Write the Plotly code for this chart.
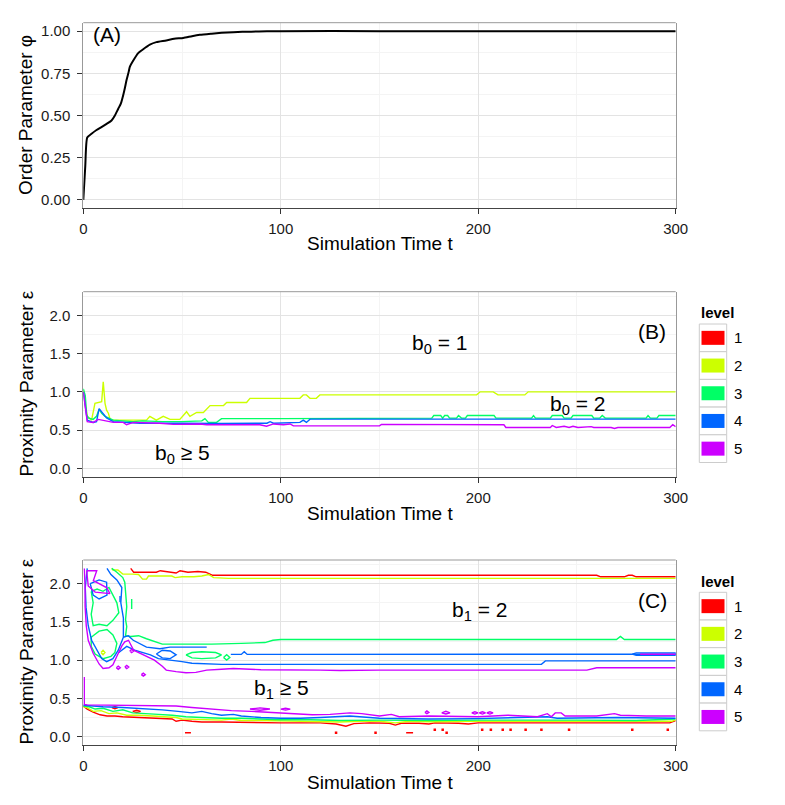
import plotly.graph_objects as go

W, H = 777, 797          # figure size; the page adds an 8px body margin
OFF = 8
FONT = "Liberation Sans, Arial, Helvetica, sans-serif"

LEVELS = ["1", "2", "3", "4", "5"]
LEVEL_COLORS = ["#FF0000", "#CCFF00", "#00FF66", "#0066FF", "#CC00FF"]
X_TICKS = [0, 100, 200, 300]
A_Y_TICKS = [0.0, 0.25, 0.5, 0.75, 1.0]
BC_Y_TICKS = [0.0, 0.5, 1.0, 1.5, 2.0]

# ---------------- Panel A: order parameter ----------------
a_t = [0, 1, 2, 4, 6.7, 9, 11.8, 14.3, 16, 17.7, 19, 20.2, 21, 21.9, 23, 23.6, 25, 27.8, 30,
       33.7, 37, 42, 46, 50.6, 55, 59, 65, 70, 76, 85, 93, 100, 150, 200, 250, 300]
a_phi = [0.0, 0.2, 0.37, 0.39, 0.414, 0.43, 0.45, 0.47, 0.50, 0.54, 0.57, 0.62, 0.66, 0.71, 0.76,
         0.79, 0.82, 0.87, 0.89, 0.92, 0.935, 0.945, 0.955, 0.96, 0.97, 0.978, 0.985, 0.99, 0.994,
         0.997, 0.999, 1.0, 1.0, 1.0, 1.0, 1.0]

# ---------------- Panel B: b0 contour lines (t, eps) ----------------
b2_pts = [(0, 1.02), (2, 0.68), (4.2, 0.63), (5.9, 0.85), (9.3, 0.87), (10.1, 1.13), (11, 0.85),
          (11.8, 0.76), (12.7, 0.72), (13.5, 0.65), (14.3, 0.63), (32, 0.63), (33.7, 0.68),
          (37, 0.63), (40.5, 0.68), (43.9, 0.64), (48.9, 0.64), (52.3, 0.74), (54, 0.68),
          (57.4, 0.73), (60.8, 0.73), (64.2, 0.82), (71, 0.82), (72.6, 0.86), (82.7, 0.86),
          (84.4, 0.915), (109.7, 0.915), (111.4, 0.96), (113, 0.96), (114.8, 0.915), (118, 0.915),
          (119.8, 0.96), (199.2, 0.96), (201, 1.0), (207.6, 1.0), (210, 0.96), (223.6, 0.96),
          (225.3, 1.0), (300, 1.0)]
b3_pts = [(0, 1.04), (1, 0.95), (1.7, 0.70), (2.5, 0.66), (5, 0.64), (6.7, 0.68), (8, 0.77),
          (9.3, 0.72), (11, 0.68), (13.5, 0.65), (15.2, 0.63), (20, 0.62), (25.3, 0.61), (30, 0.62),
          (40, 0.61), (50, 0.61), (60, 0.62), (61.6, 0.65), (63.3, 0.60), (67.5, 0.60), (70, 0.65),
          (100, 0.65), (150, 0.656), (176.5, 0.656), (177.5, 0.69), (181, 0.69), (182, 0.656),
          (183, 0.69), (184.5, 0.69), (185.5, 0.656), (189, 0.656), (190, 0.69), (191.5, 0.656),
          (193.5, 0.656), (194.5, 0.69), (208, 0.69), (209, 0.656), (227, 0.656), (228, 0.69),
          (229, 0.656), (236.5, 0.656), (237.5, 0.69), (242.5, 0.69), (243.5, 0.656), (247, 0.656),
          (248, 0.69), (257.5, 0.69), (258.5, 0.656), (261.5, 0.656), (262.8, 0.69), (264.3, 0.656),
          (285, 0.656), (286, 0.69), (287.2, 0.656), (290.5, 0.656), (291.5, 0.69), (300, 0.69)]
b4_pts = [(0, 1.0), (2, 0.63), (5, 0.60), (6.7, 0.61), (8, 0.78), (10.1, 0.72), (11.8, 0.66),
          (15.2, 0.61), (21.9, 0.60), (28.7, 0.59), (50, 0.59), (70, 0.585), (93, 0.59),
          (94.6, 0.61), (96.3, 0.59), (109.7, 0.60), (111.4, 0.63), (113, 0.60), (114.8, 0.643),
          (200, 0.643), (300, 0.643)]
b5_pts = [(0, 1.0), (2, 0.61), (5, 0.60), (7.6, 0.64), (15.2, 0.60), (20.2, 0.60), (21.9, 0.57),
          (25.3, 0.60), (38.8, 0.59), (45.6, 0.575), (59, 0.58), (62.5, 0.57), (75.9, 0.57),
          (89.4, 0.57), (92.8, 0.55), (96.3, 0.58), (101.3, 0.57), (104.7, 0.58), (106.4, 0.555),
          (150, 0.555), (151, 0.575), (170, 0.575), (171, 0.569), (213, 0.569), (214, 0.534),
          (236.5, 0.534), (237.5, 0.56), (239.5, 0.534), (243.5, 0.55), (246, 0.534), (248, 0.55),
          (250.5, 0.534), (257.2, 0.545), (258.5, 0.534), (267.3, 0.534), (269, 0.52),
          (270.7, 0.534), (297, 0.534), (298.5, 0.57), (300, 0.545)]

# ---------------- Panel C: b1 contour lines (t, eps) ----------------
# level 1 (red)
c1_top = [(24, 2.2), (24.5, 2.18), (25.5, 2.15), (30, 2.15), (37, 2.15), (39, 2.17), (44, 2.15),
          (47, 2.14), (49, 2.17), (53, 2.15), (58, 2.16), (62, 2.15), (65.5, 2.11), (70, 2.11),
          (100, 2.11), (150, 2.11), (200, 2.11), (260, 2.11), (262, 2.09), (274, 2.09), (276, 2.11),
          (278, 2.11), (280, 2.09), (300, 2.09)]
c1_bot = [(0, 0.40), (2, 0.36), (5, 0.32), (8.5, 0.285), (12, 0.27), (16, 0.27), (20, 0.26),
          (24, 0.255), (30, 0.25), (36, 0.24), (40, 0.235), (45, 0.23), (47, 0.20), (50, 0.215),
          (55, 0.20), (60, 0.19), (70, 0.19), (80, 0.185), (90, 0.185), (100, 0.18), (110, 0.18),
          (120, 0.18), (128, 0.165), (133, 0.135), (137, 0.17), (145, 0.18), (155, 0.175),
          (158, 0.15), (161, 0.175), (170, 0.175), (175, 0.165), (178, 0.18), (190, 0.175),
          (195, 0.165), (200, 0.18), (230, 0.18), (260, 0.18), (280, 0.18), (297, 0.18), (300, 0.21)]
c1_loop_a = [(14.5, 0.38), (16, 0.395), (17.5, 0.38), (16, 0.365), (14.5, 0.38)]
c1_loop_b = [(25, 0.33), (27, 0.345), (29, 0.33), (27, 0.315), (25, 0.33)]
c1_dash_a = [(51.5, 0.05), (54.5, 0.05)]
c1_dash_b = [(163.5, 0.05), (167, 0.05)]
c1_dot_t = [128, 148, 178, 182, 184, 202, 206.4, 212.4, 216.4, 224, 232, 246, 278, 296]
c1_dot_e = [0.05, 0.05, 0.09, 0.09, 0.05, 0.09, 0.09, 0.09, 0.09, 0.09, 0.09, 0.09, 0.09, 0.09]

# level 2 (yellow-green)
c2_top = [(14.4, 2.2), (15, 2.18), (17.5, 2.18), (19, 2.15), (20, 2.125), (25, 2.125), (28, 2.12),
          (30, 2.06), (32, 2.06), (33, 2.1), (40, 2.1), (44.8, 2.1), (46.5, 2.08), (50, 2.09),
          (56, 2.09), (60, 2.1), (63.4, 2.12), (66, 2.08), (73.5, 2.07), (100, 2.07), (200, 2.07),
          (300, 2.07)]
c2_bot = [(0, 0.39), (2, 0.38), (5, 0.33), (9, 0.34), (13, 0.30), (17, 0.31), (22, 0.28), (28, 0.28),
          (35, 0.27), (40, 0.26), (47, 0.25), (50, 0.23), (60, 0.22), (70, 0.215), (75, 0.23),
          (80, 0.21), (90, 0.21), (100, 0.205), (115, 0.20), (130, 0.19), (140, 0.20), (150, 0.20),
          (158, 0.18), (165, 0.20), (175, 0.195), (185, 0.20), (200, 0.20), (230, 0.20), (260, 0.20),
          (280, 0.195), (298, 0.2), (300, 0.22)]
c2_loop = [(9, 1.1), (10, 1.13), (11, 1.1), (10, 1.07), (9, 1.1)]

# level 3 (green)
c3_main = [(14.4, 2.2), (17, 2.15), (20, 2.08), (21, 2.02), (22, 1.7), (21.4, 1.53), (22, 1.44),
           (21.4, 1.32), (24, 1.31), (28, 1.32), (32, 1.28), (36, 1.24), (40, 1.21), (50, 1.21),
           (65, 1.21), (80, 1.22), (92, 1.23), (96, 1.26), (100, 1.27), (150, 1.27), (200, 1.27),
           (250, 1.27), (270, 1.27), (272, 1.31), (274, 1.27), (300, 1.27)]
c3_dash = [(24.5, 1.67), (24.5, 1.80)]
c3_loop_a = [(4, 1.9), (7, 1.93), (10, 1.90), (13, 1.95), (15, 1.85), (17, 1.75), (18, 1.62),
             (15, 1.52), (12, 1.45), (8, 1.47), (5, 1.45), (4, 1.6), (5, 1.75), (4, 1.9)]
c3_loop_b = [(4, 1.3), (8, 1.38), (12, 1.40), (15, 1.33), (17, 1.22), (16, 1.10), (14, 1.05),
             (10, 1.02), (6, 1.08), (4, 1.18), (4, 1.3)]
c3_loop_c = [(52, 1.07), (55, 1.10), (60, 1.11), (67, 1.10), (70, 1.07), (67, 1.03), (60, 1.02),
             (55, 1.03), (52, 1.07)]
c3_loop_d = [(71, 1.035), (72.6, 1.07), (74.2, 1.035), (72.6, 1.0), (71, 1.035)]
c3_bot = [(0, 0.40), (3, 0.39), (6, 0.36), (10, 0.37), (15, 0.33), (20, 0.35), (25, 0.31), (30, 0.30),
          (38, 0.29), (45, 0.28), (52, 0.26), (60, 0.25), (70, 0.24), (80, 0.24), (90, 0.23),
          (100, 0.22), (115, 0.22), (130, 0.21), (150, 0.215), (175, 0.21), (200, 0.215),
          (230, 0.22), (250, 0.215), (280, 0.21), (300, 0.23)]

# level 4 (blue)
c4_outer = [(2, 2.2), (1, 1.95), (1.4, 1.69), (2.5, 1.45), (4.2, 1.26), (6.8, 1.13), (9.3, 1.02),
            (11.8, 0.98), (15, 1.02), (17.7, 1.13), (20.3, 1.30), (20.3, 1.55), (19, 1.75),
            (19.5, 1.95), (17, 2.05), (14, 2.12), (12, 2.2)]
c4_tail = [(20.3, 1.30), (22.8, 1.32), (25.3, 1.26), (28, 1.22), (32, 1.17), (38.8, 1.15),
           (43.9, 1.17), (50, 1.17), (62.5, 1.17)]
c4_lower = [(18, 1.10), (22, 1.18), (26, 1.13), (30, 1.10), (34, 1.07), (38, 1.02), (45, 1.0),
            (50, 0.98), (55, 0.96), (62, 0.95), (70, 0.945), (100, 0.945), (150, 0.945),
            (200, 0.945), (232, 0.945), (234, 0.99), (300, 0.99)]
c4_loop_a = [(37, 1.08), (40, 1.13), (44, 1.12), (47, 1.07), (44, 1.02), (40, 1.03), (37, 1.08)]
c4_right = [(74.7, 1.075), (80, 1.075), (81.5, 1.11), (83, 1.075), (100, 1.075), (200, 1.078),
            (300, 1.078)]
c4_loop_b = [(278, 1.078), (280, 1.095), (290, 1.095), (300, 1.095), (300, 1.062), (290, 1.062),
             (280, 1.062), (278, 1.078)]
c4_inner = [(3.5, 2.0), (8, 2.05), (11.8, 2.02), (12, 1.85), (8, 1.8), (5, 1.85), (3.5, 2.0)]
c4_dash = [(18.6, 1.76), (18.6, 1.84)]
c4_bot = [(0, 0.41), (5, 0.40), (10, 0.39), (20, 0.38), (30, 0.37), (40, 0.35), (48, 0.33),
          (55, 0.31), (60, 0.33), (65, 0.30), (70, 0.28), (76, 0.29), (80, 0.27), (90, 0.25),
          (100, 0.24), (110, 0.24), (120, 0.25), (135, 0.27), (150, 0.24), (175, 0.23),
          (200, 0.235), (235, 0.26), (240, 0.24), (270, 0.25), (300, 0.24)]

# level 5 (purple)
c5_outer = [(0.5, 2.2), (0.9, 1.95), (0.9, 1.71), (1.5, 1.45), (2.5, 1.26), (5, 1.09), (8, 0.95),
            (10, 0.89), (13, 0.90), (15, 0.94), (17, 1.05), (19.6, 1.19), (21, 1.24), (22.9, 1.26),
            (25.5, 1.13), (28, 1.10), (32, 1.05), (36, 1.0), (40, 0.92), (42, 0.87), (47, 0.85),
            (52, 0.835), (57, 0.84), (62.5, 0.87), (70, 0.88), (76, 0.89), (90, 0.875),
            (100, 0.875), (120, 0.87), (130, 0.865), (150, 0.87), (200, 0.87), (255, 0.87),
            (260, 0.9), (300, 0.9)]
c5_inner = [(1.7, 2.17), (6.8, 2.17), (5.1, 2.04), (11.8, 1.95), (13.5, 1.87), (6, 1.89),
            (2.5, 1.97), (1.7, 2.17)]
c5_end = [(282, 1.078), (300, 1.078)]
c5_spot_a = [(16.7, 0.90), (17.7, 0.92), (18.7, 0.90), (17.7, 0.88), (16.7, 0.90)]
c5_spot_b = [(21, 0.91), (22, 0.93), (23, 0.91), (22, 0.89), (21, 0.91)]
c5_spot_c = [(29.4, 0.81), (30.4, 0.83), (31.4, 0.81), (30.4, 0.79), (29.4, 0.81)]
c5_spot_d = [(23.5, 1.12), (24.5, 1.14), (25.5, 1.12), (24.5, 1.10), (23.5, 1.12)]
c5_bot = [(0.5, 0.78), (0.5, 0.42), (2, 0.415), (20, 0.41), (40, 0.405), (47, 0.40), (55, 0.38),
          (65, 0.36), (75, 0.34), (85, 0.33), (100, 0.31), (110, 0.30), (116, 0.285), (125, 0.29),
          (135, 0.31), (141, 0.30), (150, 0.27), (156, 0.29), (160, 0.26), (175, 0.27),
          (190, 0.26), (200, 0.26), (215, 0.28), (230, 0.26), (235, 0.30), (237, 0.26),
          (239, 0.31), (242, 0.31), (244, 0.27), (260, 0.27), (269, 0.30), (272, 0.28),
          (285, 0.27), (300, 0.27)]
c5_oval_a = [(84.4, 0.36), (89.5, 0.375), (94.5, 0.36), (89.5, 0.345), (84.4, 0.36)]
c5_oval_b = [(100, 0.36), (102.4, 0.372), (104.8, 0.36), (102.4, 0.348), (100, 0.36)]
c5_oval_c = [(173, 0.315), (174, 0.335), (175, 0.315), (174, 0.30), (173, 0.315)]
c5_oval_d = [(181.5, 0.31), (183.6, 0.33), (185.7, 0.31), (183.6, 0.295), (181.5, 0.31)]
c5_oval_e = [(196.7, 0.31), (198.3, 0.325), (199.9, 0.31), (198.3, 0.295), (196.7, 0.31)]
c5_oval_f = [(200.5, 0.31), (202.1, 0.325), (203.7, 0.31), (202.1, 0.295), (200.5, 0.31)]
c5_oval_g = [(204.3, 0.31), (205.9, 0.325), (207.5, 0.31), (205.9, 0.295), (204.3, 0.31)]

C_SEGMENTS = [
    [c1_top, c1_bot, c1_loop_a, c1_loop_b, c1_dash_a, c1_dash_b],
    [c2_top, c2_bot, c2_loop],
    [c3_main, c3_dash, c3_loop_a, c3_loop_b, c3_loop_c, c3_loop_d, c3_bot],
    [c4_outer, c4_tail, c4_lower, c4_loop_a, c4_right, c4_loop_b, c4_inner, c4_dash, c4_bot],
    [c5_outer, c5_inner, c5_end, c5_spot_a, c5_spot_b, c5_spot_c, c5_spot_d, c5_bot,
     c5_oval_a, c5_oval_b, c5_oval_c, c5_oval_d, c5_oval_e, c5_oval_f, c5_oval_g],
]
B_SEGMENTS = [[], [b2_pts], [b3_pts], [b4_pts], [b5_pts]]


def join(segments):
    xs, ys = [], []
    for seg in segments:
        if xs:
            xs.append(None)
            ys.append(None)
        xs.extend(p[0] for p in seg)
        ys.extend(p[1] for p in seg)
    return xs, ys


fig = go.Figure()

# Panel A
fig.add_trace(go.Scatter(x=a_t, y=a_phi, mode="lines",
                         line=dict(color="black", width=2, shape="spline", smoothing=0.6),
                         xaxis="x", yaxis="y", showlegend=False, hoverinfo="skip"))

# Panel B
for i, segs in enumerate(B_SEGMENTS):
    if not segs:
        continue
    xs, ys = join(segs)
    fig.add_trace(go.Scatter(x=xs, y=ys, mode="lines", name=LEVELS[i],
                             line=dict(color=LEVEL_COLORS[i], width=1.4),
                             xaxis="x2", yaxis="y2", showlegend=False, hoverinfo="skip"))

# Panel C
for i, segs in enumerate(C_SEGMENTS):
    xs, ys = join(segs)
    fig.add_trace(go.Scatter(x=xs, y=ys, mode="lines", name=LEVELS[i],
                             line=dict(color=LEVEL_COLORS[i], width=1.4),
                             xaxis="x3", yaxis="y3", showlegend=False, hoverinfo="skip"))
    if i == 0:
        fig.add_trace(go.Scatter(x=c1_dot_t, y=c1_dot_e, mode="markers",
                                 marker=dict(color=LEVEL_COLORS[0], size=2.5, symbol="square"),
                                 xaxis="x3", yaxis="y3", showlegend=False, hoverinfo="skip"))


def pxx(p):
    return (p - OFF) / W


def pyy(p):
    return 1 - (p - OFF) / H


XDOM = [pxx(83.3), pxx(675.7)]
tickfont = dict(family=FONT, size=15, color="#1a1a1a")


def xaxis_cfg(anchor):
    return dict(domain=XDOM, anchor=anchor, range=[0, 300], tickvals=X_TICKS,
                ticks="outside", ticklen=5, tickcolor="#333", tickfont=tickfont,
                ticklabelstandoff=2, automargin=False,
                showgrid=True, gridcolor="#e3e3e3", gridwidth=1,
                minor=dict(tickvals=[50, 150, 250], showgrid=True, gridcolor="#f4f4f4", ticks=""),
                showline=True, linecolor="#444", linewidth=1.2, zeroline=False, fixedrange=True)


def yaxis_cfg(anchor, dom, rng, tickvals, fmt, minor_vals):
    return dict(domain=dom, anchor=anchor, range=rng, tickvals=tickvals, tickformat=fmt,
                ticks="outside", ticklen=5, tickcolor="#333", tickfont=tickfont,
                ticklabelstandoff=4, automargin=False,
                showgrid=True, gridcolor="#e3e3e3", gridwidth=1,
                minor=dict(tickvals=minor_vals, showgrid=True, gridcolor="#f4f4f4", ticks=""),
                showline=True, linecolor="#999", linewidth=1, mirror=True, zeroline=False,
                fixedrange=True)


fig.update_layout(
    width=W, height=H, margin=dict(l=0, r=0, t=0, b=0, autoexpand=False),
    paper_bgcolor="white", plot_bgcolor="white", showlegend=False,
    font=dict(family=FONT, color="black"),
    xaxis=xaxis_cfg("y"),
    yaxis=yaxis_cfg("x", [pyy(208.3), pyy(22.7)], [-0.05, 1.05], A_Y_TICKS, ".2f",
                    [0.125, 0.375, 0.625, 0.875]),
    xaxis2=xaxis_cfg("y2"),
    yaxis2=yaxis_cfg("x2", [pyy(476.7), pyy(291.7)], [-0.11, 2.31], BC_Y_TICKS, ".1f",
                     [0.25, 0.75, 1.25, 1.75, 2.25]),
    xaxis3=xaxis_cfg("y3"),
    yaxis3=yaxis_cfg("x3", [pyy(745), pyy(560)], [-0.11, 2.31], BC_Y_TICKS, ".1f",
                     [0.25, 0.75, 1.25, 1.75, 2.25]),
)

shapes = []
# top border of each panel
for ya in ["y", "y2", "y3"]:
    xa = "x" if ya == "y" else "x" + ya[1:]
    shapes.append(dict(type="line", xref=xa + " domain", yref=ya + " domain",
                       x0=0, x1=1, y0=1, y1=1, line=dict(color="#999", width=1)))

annotations = []


def ann(text, x, y, size, xanchor="center", bold=False, angle=0):
    annotations.append(dict(text=("<b>%s</b>" % text) if bold else text, x=pxx(x), y=pyy(y),
                            xref="paper", yref="paper", showarrow=False, xanchor=xanchor,
                            yanchor="middle", textangle=angle,
                            font=dict(family=FONT, size=size, color="black")))


# axis titles
for ty in [244, 513, 782]:
    ann("Simulation Time t", 379.5, ty, 19)
ann("Order Parameter φ", 25.5, 115.5, 19, angle=-90)
ann("Proximity Parameter ε", 25.5, 384, 19, angle=-90)
ann("Proximity Parameter ε", 25.5, 652, 19, angle=-90)

# panel labels
ann("(A)", 107, 35, 21)
ann("(B)", 652, 332, 21)
ann("(C)", 652, 600, 21)
ann("b<sub>0</sub> = 1", 439, 344, 21)
ann("b<sub>0</sub> = 2", 577.5, 405, 21)
ann("b<sub>0</sub> ≥ 5", 182.5, 454, 21)
ann("b<sub>1</sub> = 2", 479, 611, 21)
ann("b<sub>1</sub> ≥ 5", 281, 689, 21)

# legends (level keys)
for title_y, first_cell in [(312.3, 324.0), (581.0, 592.3)]:
    ann("level", 699.3, title_y, 15, xanchor="left", bold=True)
    for i, lab in enumerate(LEVELS):
        y0 = first_cell + i * 27.7
        y1 = y0 + 27.7
        shapes.append(dict(type="rect", xref="paper", yref="paper",
                           x0=pxx(699.3), x1=pxx(726.7), y0=pyy(y1), y1=pyy(y0),
                           fillcolor="white", line=dict(color="#cccccc", width=1)))
        ym = (y0 + y1) / 2
        shapes.append(dict(type="rect", xref="paper", yref="paper",
                           x0=pxx(701.5), x1=pxx(724.5), y0=pyy(ym + 7), y1=pyy(ym - 7),
                           fillcolor=LEVEL_COLORS[i], line=dict(width=0)))
        ann(lab, 731.5, ym, 15, xanchor="left")

fig.update_layout(shapes=shapes, annotations=annotations)
fig.write_html("out.html")
